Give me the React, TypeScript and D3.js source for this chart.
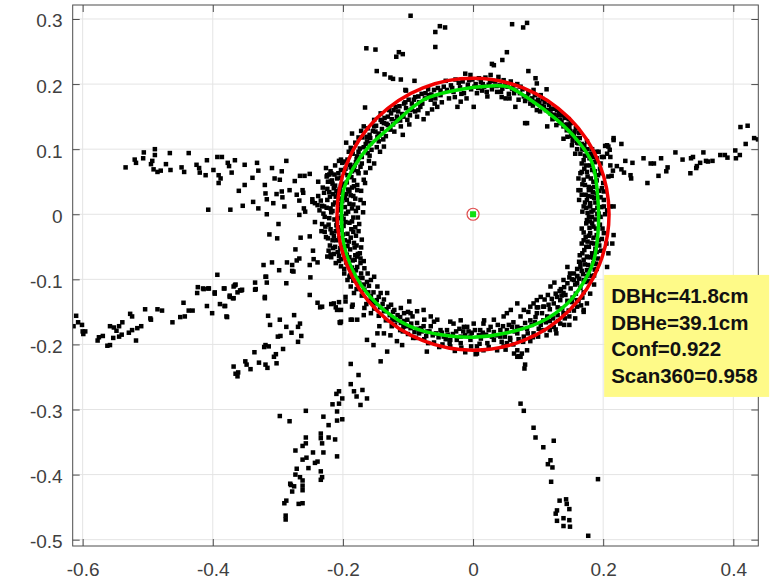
import React, { useRef, useEffect } from 'react';
import * as d3 from 'd3';

type Pt = [number, number];

// axis limits and ticks (metres)
const xLimits: [number, number] = [-0.6153, 0.4384];
const yLimits: [number, number] = [-0.5097, 0.3215];
const xTicks = [-0.6, -0.4, -0.2, 0, 0.2, 0.4];
const yTicks = [-0.5, -0.4, -0.3, -0.2, -0.1, 0, 0.1, 0.2, 0.3];

// fitted circle (DBHc) and estimated outline (DBHe)
const circleCenter: Pt = [0, 0];
const circleRadius = 0.209;
const ellipseOutline: Pt[] = [
  [-0.199, 0.037], [-0.184, 0.071], [-0.161, 0.103], [-0.127, 0.134], [-0.076, 0.176],
  [-0.024, 0.191], [0.027, 0.197], [0.053, 0.196], [0.088, 0.176], [0.129, 0.145],
  [0.16, 0.114], [0.183, 0.079], [0.192, 0.022], [0.192, -0.029], [0.185, -0.073],
  [0.169, -0.106], [0.145, -0.137], [0.103, -0.166], [0.053, -0.182], [0.0, -0.189],
  [-0.035, -0.187], [-0.081, -0.178], [-0.116, -0.162], [-0.158, -0.127], [-0.185, -0.086],
  [-0.199, -0.044], [-0.202, 0.002],
];

const infoLines = ['DBHc=41.8cm', 'DBHe=39.1cm', 'Conf=0.922', 'Scan360=0.958'];

// scan points
const upperLeftArm: Pt[] = [
  [-0.534, 0.072], [-0.52, 0.084], [-0.518, 0.079], [-0.506, 0.095], [-0.507, 0.086], [-0.489, 0.1],
  [-0.489, 0.091], [-0.493, 0.082], [-0.495, 0.077], [-0.491, 0.069], [-0.485, 0.065], [-0.48, 0.067],
  [-0.472, 0.077], [-0.466, 0.094], [-0.465, 0.068], [-0.448, 0.072], [-0.444, 0.065], [-0.437, 0.094],
  [-0.425, 0.076], [-0.421, 0.071], [-0.42, 0.064], [-0.409, 0.083], [-0.411, 0.06], [-0.399, 0.068],
  [-0.393, 0.088], [-0.386, 0.088], [-0.391, 0.06], [-0.391, 0.048], [-0.388, 0.055], [-0.377, 0.079],
  [-0.375, 0.074], [-0.371, 0.064], [-0.366, 0.083], [-0.351, 0.076], [-0.332, 0.079], [-0.33, 0.067],
  [-0.351, 0.045], [-0.36, 0.036], [-0.339, 0.056], [-0.338, 0.019], [-0.354, 0.013], [-0.33, 0.009],
  [-0.373, 0.007], [-0.407, 0.007], [-0.32, 0.045], [-0.319, 0.032], [-0.317, 0.023], [-0.317, 0.0],
  [-0.309, 0.071], [-0.307, 0.017], [-0.302, 0.031], [-0.294, 0.066], [-0.297, 0.053], [-0.293, 0.026],
  [-0.287, 0.082], [-0.294, 0.035], [-0.29, 0.012], [-0.282, 0.037], [-0.274, 0.051], [-0.271, 0.03],
  [-0.267, 0.021], [-0.262, 0.037], [-0.266, 0.059], [-0.259, 0.059], [-0.251, 0.062], [-0.26, 0.009],
  [-0.267, -0.001], [-0.238, 0.05], [-0.239, 0.014], [-0.224, 0.06], [-0.219, 0.05], [-0.206, 0.082],
  [-0.218, 0.063], [-0.305, 0.055], [-0.261, 0.033], [-0.247, 0.023], [-0.243, 0.017], [-0.258, 0.004],
];

const middleArm: Pt[] = [
  [-0.299, -0.015], [-0.313, -0.031], [-0.301, -0.037], [-0.265, -0.036], [-0.251, -0.034], [-0.273, -0.054],
  [-0.267, -0.068], [-0.246, -0.056], [-0.245, -0.069], [-0.322, -0.078], [-0.309, -0.074], [-0.298, -0.086],
  [-0.286, -0.074], [-0.278, -0.078], [-0.278, -0.087], [-0.251, -0.078], [-0.239, -0.074], [-0.224, -0.065],
  [-0.219, -0.062], [-0.393, -0.093], [-0.423, -0.112], [-0.415, -0.114], [-0.406, -0.114], [-0.424, -0.121],
  [-0.397, -0.12], [-0.382, -0.114], [-0.374, -0.127], [-0.365, -0.108], [-0.362, -0.12], [-0.356, -0.117],
  [-0.335, -0.105], [-0.335, -0.116], [-0.319, -0.096], [-0.317, -0.105], [-0.32, -0.127], [-0.287, -0.106],
  [-0.25, -0.097], [-0.251, -0.124], [-0.271, -0.071], [-0.368, -0.111], [-0.368, -0.129], [-0.382, -0.141],
  [-0.378, -0.158], [-0.239, -0.136], [-0.235, -0.143], [-0.232, -0.142], [-0.218, -0.138], [-0.211, -0.143],
  [-0.206, -0.135], [-0.209, -0.147], [-0.205, -0.166], [-0.196, -0.127], [-0.186, -0.142], [-0.186, -0.162],
];

const lowerLeftArm: Pt[] = [
  [-0.614, -0.172], [-0.61, -0.156], [-0.607, -0.166], [-0.601, -0.17], [-0.6, -0.18], [-0.596, -0.18],
  [-0.599, -0.184], [-0.577, -0.194], [-0.575, -0.189], [-0.569, -0.187], [-0.562, -0.202], [-0.558, -0.201],
  [-0.558, -0.172], [-0.553, -0.19], [-0.552, -0.174], [-0.548, -0.179], [-0.544, -0.172], [-0.544, -0.188],
  [-0.54, -0.185], [-0.539, -0.166], [-0.529, -0.182], [-0.527, -0.153], [-0.524, -0.157], [-0.524, -0.178],
  [-0.518, -0.194], [-0.516, -0.175], [-0.51, -0.172], [-0.504, -0.146], [-0.495, -0.162], [-0.496, -0.16],
  [-0.485, -0.146], [-0.478, -0.148], [-0.462, -0.166], [-0.45, -0.158], [-0.445, -0.136], [-0.443, -0.157],
  [-0.437, -0.148], [-0.431, -0.148], [-0.414, -0.115], [-0.407, -0.114], [-0.409, -0.141], [-0.401, -0.152],
  [-0.397, -0.122], [-0.389, -0.138], [-0.383, -0.114], [-0.381, -0.141], [-0.379, -0.157], [-0.374, -0.125],
  [-0.369, -0.129], [-0.366, -0.109], [-0.358, -0.117], [-0.355, -0.116], [-0.334, -0.115], [-0.32, -0.129],
  [-0.318, -0.096], [-0.276, -0.088],
];

const middleLowerArm: Pt[] = [
  [-0.315, -0.156], [-0.312, -0.17], [-0.297, -0.162], [-0.287, -0.173], [-0.275, -0.155], [-0.269, -0.173],
  [-0.266, -0.168], [-0.279, -0.182], [-0.296, -0.187], [-0.3, -0.188], [-0.264, -0.187], [-0.269, -0.196],
  [-0.292, -0.207], [-0.319, -0.201], [-0.314, -0.203], [-0.321, -0.204], [-0.336, -0.212], [-0.306, -0.219],
  [-0.303, -0.215], [-0.35, -0.226], [-0.348, -0.231], [-0.342, -0.238], [-0.329, -0.228], [-0.319, -0.231],
  [-0.316, -0.236], [-0.302, -0.229], [-0.368, -0.234], [-0.365, -0.245], [-0.361, -0.243], [-0.362, -0.249],
];

const bottomLeftArm: Pt[] = [
  [-0.188, -0.23], [-0.176, -0.247], [-0.188, -0.261], [-0.183, -0.272], [-0.179, -0.28], [-0.21, -0.276],
  [-0.206, -0.272], [-0.201, -0.283], [-0.216, -0.292], [-0.206, -0.291], [-0.209, -0.303], [-0.201, -0.315],
  [-0.209, -0.317], [-0.257, -0.302], [-0.23, -0.311], [-0.222, -0.324], [-0.297, -0.31], [-0.282, -0.318],
  [-0.234, -0.337], [-0.234, -0.344], [-0.232, -0.352], [-0.222, -0.343], [-0.212, -0.346], [-0.257, -0.343],
  [-0.257, -0.352], [-0.262, -0.356], [-0.273, -0.363], [-0.246, -0.366], [-0.23, -0.366], [-0.209, -0.372],
  [-0.256, -0.374], [-0.262, -0.377], [-0.239, -0.38], [-0.243, -0.382], [-0.253, -0.39], [-0.271, -0.391],
  [-0.273, -0.4], [-0.266, -0.404], [-0.234, -0.395], [-0.232, -0.404], [-0.234, -0.408], [-0.28, -0.416],
  [-0.275, -0.418], [-0.278, -0.426], [-0.281, -0.414], [-0.268, -0.445], [-0.262, -0.444], [-0.262, -0.424],
  [-0.262, -0.417], [-0.287, -0.44], [-0.29, -0.444], [-0.288, -0.463], [-0.288, -0.469], [-0.262, -0.409],
  [-0.17, -0.27], [-0.173, -0.293], [-0.163, -0.283],
];

const bottomRightArm: Pt[] = [
  [0.07, -0.218], [0.075, -0.214], [0.079, -0.237], [0.08, -0.231], [0.073, -0.291], [0.078, -0.302],
  [0.093, -0.328], [0.096, -0.343], [0.108, -0.358], [0.124, -0.348], [0.119, -0.378], [0.115, -0.384],
  [0.122, -0.389], [0.12, -0.411], [0.133, -0.44], [0.143, -0.438], [0.144, -0.445], [0.148, -0.453],
  [0.129, -0.455], [0.127, -0.46], [0.139, -0.467], [0.129, -0.471], [0.148, -0.47], [0.139, -0.479],
  [0.149, -0.48], [0.177, -0.494], [0.192, -0.407],
];

const rightArm: Pt[] = [
  [0.216, 0.114], [0.228, 0.108], [0.21, 0.099], [0.203, 0.105], [0.211, 0.088], [0.234, 0.082],
  [0.245, 0.079], [0.221, 0.074], [0.228, 0.069], [0.232, 0.064], [0.215, 0.067], [0.213, 0.059],
  [0.243, 0.055], [0.242, 0.06], [0.262, 0.086], [0.273, 0.078], [0.278, 0.078], [0.289, 0.086],
  [0.299, 0.072], [0.297, 0.066], [0.285, 0.059], [0.268, 0.048], [0.311, 0.095], [0.322, 0.084],
  [0.335, 0.086], [0.338, 0.088], [0.354, 0.095], [0.349, 0.079], [0.344, 0.074], [0.343, 0.071],
  [0.334, 0.063], [0.358, 0.082], [0.361, 0.081], [0.368, 0.082], [0.38, 0.091], [0.387, 0.091],
  [0.391, 0.087], [0.403, 0.098], [0.404, 0.086], [0.41, 0.091], [0.411, 0.134], [0.422, 0.136],
  [0.419, 0.108], [0.432, 0.117], [0.438, 0.115],
];

const topScatter: Pt[] = [
  [-0.096, 0.305], [-0.058, 0.28], [-0.051, 0.289], [-0.043, 0.287], [-0.058, 0.257], [-0.164, 0.255],
  [-0.15, 0.253], [-0.118, 0.242], [-0.114, 0.249], [-0.108, 0.246], [0.06, 0.292], [0.077, 0.287],
  [0.083, 0.294], [0.052, 0.249], [0.045, 0.237], [0.029, 0.231], [0.032, 0.229], [-0.148, 0.22],
  [-0.136, 0.215], [-0.127, 0.21], [-0.123, 0.208], [-0.111, 0.207], [-0.09, 0.205], [0.085, 0.22],
  [-0.166, 0.164], [0.216, 0.117], [-0.103, 0.19], [0.096, 0.209], [0.098, 0.201], [0.113, 0.192],
  [0.08, 0.14],
];

const ringLeft: Pt[] = [
  [-0.247, 0.019], [-0.243, -0.012], [-0.238, 0.028], [-0.236, 0.006], [-0.233, -0.026], [-0.231, 0.041],
  [-0.229, 0.012], [-0.228, -0.004], [-0.226, -0.035], [-0.225, 0.058], [-0.224, 0.022], [-0.222, -0.016],
  [-0.221, 0.034], [-0.22, -0.048], [-0.219, 0.066], [-0.218, 0.003], [-0.217, -0.029], [-0.216, 0.047],
  [-0.215, 0.015], [-0.214, -0.061], [-0.213, -0.008], [-0.212, 0.075], [-0.211, 0.027], [-0.21, -0.04],
  [-0.209, 0.055], [-0.208, -0.02], [-0.207, 0.009], [-0.206, -0.072], [-0.205, 0.038], [-0.204, -0.052],
  [-0.203, 0.068], [-0.202, -0.003], [-0.201, 0.02], [-0.2, -0.031], [-0.199, 0.047], [-0.198, -0.084],
  [-0.197, 0.081], [-0.196, -0.012], [-0.195, 0.031], [-0.194, -0.062], [-0.193, 0.06], [-0.192, 0.004],
  [-0.191, -0.042], [-0.19, 0.016], [-0.189, -0.094], [-0.188, 0.072], [-0.187, -0.023], [-0.186, 0.041],
  [-0.185, -0.071], [-0.184, -0.005], [-0.183, 0.052], [-0.182, -0.051], [-0.181, 0.024], [-0.18, -0.033],
  [-0.179, 0.085], [-0.178, -0.081], [-0.177, 0.01], [-0.176, 0.063], [-0.175, -0.015], [-0.174, -0.06],
  [-0.172, 0.036], [-0.171, -0.039], [-0.169, 0.003], [-0.168, -0.072], [-0.166, 0.048], [-0.214, 0.04],
  [-0.209, -0.012], [-0.205, 0.016], [-0.2, -0.058], [-0.197, 0.011], [-0.193, -0.03], [-0.19, 0.035],
  [-0.186, -0.011], [-0.184, 0.028], [-0.181, -0.063], [-0.178, 0.045], [-0.203, 0.044], [-0.208, 0.03],
  [-0.211, -0.026], [-0.216, -0.04], [-0.219, 0.009], [-0.223, 0.05], [-0.227, -0.019], [-0.232, 0.013],
  [-0.199, -0.018], [-0.194, 0.022], [-0.189, -0.054], [-0.183, -0.044], [-0.18, 0.005], [-0.176, -0.026],
  [-0.196, 0.07], [-0.206, -0.064], [-0.213, 0.061], [-0.187, 0.057], [-0.172, -0.051], [-0.192, -0.075],
  [-0.201, 0.079], [-0.215, -0.052],
  [-0.226, 0.071], [-0.221, 0.061], [-0.217, 0.052], [-0.212, 0.044], [-0.207, 0.063], [-0.203, 0.056],
  [-0.198, 0.064], [-0.194, 0.049], [-0.19, 0.058], [-0.186, 0.066], [-0.182, 0.075], [-0.229, 0.033],
  [-0.224, 0.039], [-0.22, 0.027], [-0.215, 0.031], [-0.21, 0.036], [-0.206, 0.024], [-0.202, 0.033],
  [-0.197, 0.025], [-0.192, 0.038], [-0.188, 0.029], [-0.184, 0.015], [-0.234, 0.021], [-0.23, 0.001],
  [-0.225, 0.01], [-0.221, -0.006], [-0.216, 0.005], [-0.212, 0.018], [-0.208, -0.006], [-0.204, 0.006],
  [-0.199, -0.007], [-0.195, 0.001], [-0.19, -0.013], [-0.186, 0.009], [-0.181, -0.02], [-0.177, -0.005],
  [-0.232, -0.015], [-0.228, -0.027], [-0.223, -0.037], [-0.219, -0.023], [-0.214, -0.033], [-0.21, -0.017],
  [-0.206, -0.037], [-0.202, -0.024], [-0.197, -0.04], [-0.193, -0.049], [-0.188, -0.036], [-0.184, -0.027],
  [-0.179, -0.048], [-0.222, -0.056], [-0.218, -0.066], [-0.212, -0.05], [-0.208, -0.058], [-0.203, -0.069],
  [-0.199, -0.05], [-0.195, -0.074], [-0.19, -0.066], [-0.186, -0.082], [-0.182, -0.07], [-0.177, -0.061],
  [-0.173, -0.068],
];

const ringUpperLeft: Pt[] = [
  [-0.203, 0.084], [-0.191, 0.096], [-0.178, 0.089], [-0.162, 0.094], [-0.173, 0.073], [-0.183, 0.068],
  [-0.152, 0.078], [-0.168, 0.053], [-0.183, 0.043], [-0.178, 0.037], [-0.173, 0.022], [-0.168, 0.017],
  [-0.157, 0.109], [-0.137, 0.104], [-0.147, 0.119], [-0.162, 0.132], [-0.152, 0.135], [-0.142, 0.145],
  [-0.131, 0.15], [-0.168, 0.135], [-0.163, 0.119], [-0.152, 0.145], [-0.142, 0.155], [-0.137, 0.14],
  [-0.129, 0.16], [-0.127, 0.13], [-0.119, 0.165], [-0.117, 0.15], [-0.111, 0.135], [-0.106, 0.17],
  [-0.101, 0.145], [-0.096, 0.16], [-0.104, 0.191], [-0.091, 0.176], [-0.086, 0.15], [-0.081, 0.165],
  [-0.073, 0.186], [-0.07, 0.155], [-0.065, 0.176], [-0.06, 0.191], [-0.055, 0.165], [-0.05, 0.183],
  [-0.188, 0.102], [-0.181, 0.11], [-0.174, 0.101], [-0.17, 0.118], [-0.165, 0.108], [-0.159, 0.122],
  [-0.156, 0.099], [-0.15, 0.127], [-0.145, 0.112], [-0.14, 0.131], [-0.134, 0.12], [-0.133, 0.139],
  [-0.125, 0.146], [-0.121, 0.127], [-0.115, 0.158], [-0.112, 0.144], [-0.108, 0.122], [-0.103, 0.163],
  [-0.098, 0.138], [-0.094, 0.17], [-0.089, 0.158], [-0.084, 0.181], [-0.078, 0.17], [-0.076, 0.146],
  [-0.068, 0.183], [-0.063, 0.161], [-0.058, 0.178], [-0.16, 0.082], [-0.165, 0.064], [-0.158, 0.071],
  [-0.176, 0.118], [-0.186, 0.124], [-0.172, 0.128], [-0.143, 0.096], [-0.195, 0.11],
  [-0.193, 0.084], [-0.185, 0.093], [-0.18, 0.08], [-0.176, 0.096], [-0.171, 0.088], [-0.168, 0.103],
  [-0.163, 0.112], [-0.158, 0.117], [-0.154, 0.128], [-0.149, 0.136], [-0.145, 0.124], [-0.14, 0.142],
  [-0.136, 0.148], [-0.131, 0.137], [-0.126, 0.155], [-0.122, 0.16], [-0.118, 0.143], [-0.113, 0.166],
  [-0.109, 0.154], [-0.104, 0.172], [-0.099, 0.176], [-0.094, 0.162], [-0.089, 0.18], [-0.083, 0.172],
  [-0.079, 0.185], [-0.074, 0.178], [-0.069, 0.192], [-0.064, 0.184], [-0.059, 0.17], [-0.054, 0.194],
  [-0.189, 0.076], [-0.177, 0.066], [-0.171, 0.078], [-0.159, 0.09], [-0.148, 0.103], [-0.138, 0.115],
  [-0.123, 0.138], [-0.107, 0.15], [-0.097, 0.152], [-0.084, 0.16],
];

const ringTop: Pt[] = [
  [-0.045, 0.196], [-0.037, 0.178], [-0.03, 0.188], [-0.024, 0.165], [-0.019, 0.173], [-0.014, 0.186],
  [-0.012, 0.216], [-0.004, 0.214], [0.001, 0.165], [0.006, 0.186], [0.009, 0.209], [0.017, 0.196],
  [0.022, 0.181], [0.027, 0.214], [0.034, 0.204], [0.037, 0.188], [0.045, 0.193], [0.05, 0.178],
  [0.058, 0.204], [0.063, 0.186], [0.065, 0.165], [0.073, 0.196], [0.078, 0.181], [-0.042, 0.205],
  [-0.034, 0.198], [-0.027, 0.207], [-0.02, 0.195], [-0.016, 0.204], [-0.008, 0.199], [-0.003, 0.192],
  [-0.001, 0.207], [0.004, 0.2], [0.012, 0.203], [0.014, 0.19], [0.019, 0.21], [0.024, 0.199],
  [0.029, 0.192], [0.031, 0.205], [0.039, 0.211], [0.041, 0.198], [0.047, 0.206], [0.053, 0.196],
  [0.055, 0.185], [0.06, 0.193], [0.068, 0.2], [0.07, 0.176], [-0.048, 0.172], [-0.01, 0.178],
  [0.044, 0.18], [-0.028, 0.18],
  [-0.05, 0.19], [-0.04, 0.191], [-0.032, 0.194], [-0.022, 0.202], [-0.018, 0.185], [-0.006, 0.206],
  [0.002, 0.196], [0.008, 0.194], [0.015, 0.2], [0.021, 0.188], [0.026, 0.204], [0.036, 0.197],
  [0.043, 0.188], [0.049, 0.198], [0.056, 0.178], [0.062, 0.198], [0.066, 0.19], [0.072, 0.186],
  [0.076, 0.192], [0.08, 0.174],
];

const ringUpperRight: Pt[] = [
  [0.088, 0.17], [0.093, 0.191], [0.098, 0.16], [0.104, 0.183], [0.083, 0.14], [0.109, 0.165],
  [0.119, 0.155], [0.129, 0.16], [0.134, 0.145], [0.139, 0.135], [0.15, 0.14], [0.155, 0.124],
  [0.145, 0.119], [0.114, 0.135], [0.134, 0.14], [0.144, 0.129], [0.139, 0.116], [0.154, 0.119],
  [0.152, 0.106], [0.162, 0.109], [0.165, 0.093], [0.157, 0.093], [0.172, 0.099], [0.17, 0.083],
  [0.198, 0.088], [0.19, 0.096], [0.206, 0.106], [0.085, 0.186], [0.091, 0.178], [0.096, 0.173],
  [0.102, 0.171], [0.107, 0.177], [0.112, 0.16], [0.117, 0.168], [0.122, 0.146], [0.125, 0.162],
  [0.131, 0.152], [0.137, 0.152], [0.142, 0.137], [0.147, 0.146], [0.149, 0.128], [0.158, 0.132],
  [0.16, 0.117], [0.163, 0.125], [0.167, 0.108], [0.175, 0.112], [0.178, 0.092], [0.183, 0.1],
  [0.16, 0.1], [0.128, 0.137], [0.103, 0.158], [0.185, 0.088],
  [0.083, 0.18], [0.087, 0.177], [0.092, 0.167], [0.095, 0.183], [0.1, 0.176], [0.106, 0.166],
  [0.11, 0.172], [0.115, 0.16], [0.12, 0.162], [0.124, 0.153], [0.127, 0.147], [0.132, 0.158],
  [0.136, 0.142], [0.141, 0.148], [0.144, 0.138], [0.148, 0.134], [0.151, 0.12], [0.156, 0.127],
  [0.16, 0.11], [0.164, 0.117], [0.168, 0.1], [0.171, 0.106], [0.176, 0.1], [0.179, 0.086],
  [0.182, 0.093], [0.187, 0.08], [0.19, 0.086], [0.195, 0.07], [0.172, 0.09], [0.153, 0.113],
];

const ringRight: Pt[] = [
  [0.167, 0.078], [0.165, 0.063], [0.17, 0.053], [0.162, 0.037], [0.178, 0.042], [0.175, 0.022],
  [0.18, 0.012], [0.183, -0.004], [0.175, -0.009], [0.185, -0.019], [0.18, -0.029], [0.173, -0.035],
  [0.178, -0.05], [0.183, -0.06], [0.17, -0.07], [0.165, -0.081], [0.175, -0.086], [0.185, -0.075],
  [0.149, -0.091], [0.155, -0.101], [0.193, 0.001], [0.201, 0.012], [0.211, 0.012], [0.201, -0.029],
  [0.216, -0.032], [0.208, -0.06], [0.206, -0.081], [0.196, 0.063], [0.206, 0.093], [0.208, 0.104],
  [0.201, 0.088], [0.193, 0.096], [0.185, 0.088], [0.167, 0.065], [0.175, 0.065], [0.183, 0.068],
  [0.162, 0.055], [0.165, 0.037], [0.178, 0.037], [0.183, 0.027], [0.18, 0.017], [0.17, 0.012],
  [0.185, 0.006], [0.178, -0.004], [0.183, -0.014], [0.19, 0.052], [0.19, 0.032], [0.198, 0.04],
  [0.201, 0.022], [0.206, 0.006], [0.216, 0.012], [0.208, 0.058], [0.211, 0.075], [0.188, -0.008],
  [0.179, -0.021], [0.19, -0.032], [0.176, -0.042], [0.186, -0.045], [0.171, -0.055], [0.188, -0.053],
  [0.181, -0.066], [0.192, -0.068], [0.177, -0.078], [0.169, -0.092], [0.182, -0.095], [0.16, -0.084],
  [0.172, -0.104], [0.188, 0.018], [0.173, 0.03], [0.191, 0.01], [0.168, 0.046], [0.195, -0.016],
  [0.186, 0.042], [0.194, -0.048], [0.167, -0.022], [0.17, -0.04], [0.198, -0.038], [0.181, 0.055],
  [0.174, 0.075], [0.196, 0.078], [0.163, 0.022], [0.176, 0.002], [0.187, -0.085], [0.164, -0.063],
  [0.2, 0.048], [0.214, -0.045],
  [0.171, 0.07], [0.18, 0.075], [0.187, 0.066], [0.192, 0.06], [0.176, 0.058], [0.185, 0.05],
  [0.172, 0.045], [0.181, 0.04], [0.194, 0.036], [0.167, 0.03], [0.177, 0.028], [0.186, 0.025],
  [0.196, 0.026], [0.172, 0.018], [0.182, 0.004], [0.191, 0.0], [0.197, 0.011], [0.168, 0.004],
  [0.174, -0.014], [0.18, -0.011], [0.189, -0.022], [0.196, -0.004], [0.199, -0.022], [0.17, -0.028],
  [0.178, -0.033], [0.185, -0.036], [0.193, -0.04], [0.167, -0.045], [0.174, -0.05], [0.182, -0.044],
  [0.19, -0.058], [0.197, -0.056], [0.168, -0.06], [0.176, -0.066], [0.185, -0.067], [0.172, -0.077],
  [0.181, -0.081], [0.189, -0.076], [0.163, -0.073], [0.167, -0.087], [0.175, -0.095], [0.16, -0.095],
  [0.178, -0.103], [0.186, -0.094], [0.203, 0.0], [0.205, -0.045], [0.201, 0.035], [0.184, 0.034],
  [0.174, 0.01], [0.19, -0.084],
];

const ringLowerRight: Pt[] = [
  [0.145, -0.081], [0.155, -0.091], [0.165, -0.075], [0.175, -0.065], [0.17, -0.101], [0.16, -0.106],
  [0.145, -0.106], [0.139, -0.101], [0.18, -0.122], [0.175, -0.137], [0.17, -0.15], [0.119, -0.111],
  [0.127, -0.122], [0.104, -0.127], [0.093, -0.137], [0.109, -0.142], [0.124, -0.137], [0.134, -0.132],
  [0.114, -0.157], [0.098, -0.152], [0.078, -0.147], [0.073, -0.157], [0.088, -0.163], [0.104, -0.17],
  [0.124, -0.173], [0.134, -0.168], [0.068, -0.173], [0.052, -0.178], [0.058, -0.147], [0.047, -0.157],
  [0.068, -0.183], [0.078, -0.188], [0.093, -0.183], [0.052, -0.198], [0.042, -0.188], [0.027, -0.173],
  [0.017, -0.163], [0.011, -0.178], [0.001, -0.168], [-0.009, -0.173], [-0.019, -0.163], [-0.03, -0.168],
  [-0.04, -0.178], [-0.035, -0.193], [-0.019, -0.188], [-0.004, -0.193], [0.006, -0.203], [0.022, -0.198],
  [0.032, -0.193], [0.037, -0.209], [0.047, -0.203], [0.068, -0.209], [0.073, -0.219], [0.083, -0.209],
  [0.063, -0.214], [-0.019, -0.198], [-0.035, -0.203], [-0.045, -0.188], [0.15, -0.114], [0.158, -0.122],
  [0.165, -0.113], [0.142, -0.124], [0.152, -0.135], [0.16, -0.142], [0.147, -0.148], [0.137, -0.145],
  [0.13, -0.155], [0.141, -0.16], [0.118, -0.146], [0.11, -0.131], [0.1, -0.143], [0.085, -0.15],
  [0.095, -0.166], [0.118, -0.164], [0.108, -0.178], [0.083, -0.176], [0.062, -0.166], [0.057, -0.19],
  [0.038, -0.17], [0.032, -0.181], [0.02, -0.185], [0.012, -0.191], [-0.002, -0.182], [-0.012, -0.186],
  [-0.026, -0.18], [0.046, -0.172], [0.088, -0.195], [0.1, -0.188], [0.113, -0.186], [0.128, -0.183],
  [0.157, -0.16], [0.178, -0.088], [0.168, -0.128], [0.186, -0.108], [0.148, -0.17], [0.125, -0.105],
  [0.133, -0.118], [0.16, -0.095],
  [0.152, -0.1], [0.163, -0.099], [0.157, -0.108], [0.148, -0.097], [0.14, -0.112], [0.136, -0.125],
  [0.145, -0.133], [0.153, -0.128], [0.162, -0.133], [0.17, -0.12], [0.166, -0.14], [0.155, -0.148],
  [0.148, -0.157], [0.139, -0.152], [0.13, -0.143], [0.121, -0.13], [0.115, -0.124], [0.116, -0.139],
  [0.106, -0.152], [0.112, -0.166], [0.123, -0.16], [0.131, -0.164], [0.14, -0.17], [0.127, -0.177],
  [0.118, -0.178], [0.108, -0.163], [0.096, -0.158], [0.09, -0.17], [0.101, -0.176], [0.092, -0.189],
  [0.084, -0.183], [0.08, -0.167], [0.074, -0.175], [0.077, -0.196], [0.07, -0.192], [0.064, -0.18],
  [0.06, -0.173], [0.062, -0.2], [0.055, -0.17], [0.049, -0.188], [0.044, -0.196], [0.036, -0.186],
  [0.029, -0.188], [0.024, -0.178], [0.015, -0.182], [0.009, -0.186], [0.003, -0.178], [-0.007, -0.18],
  [0.098, -0.143], [0.135, -0.115],
];

const ringLowerLeft: Pt[] = [
  [-0.178, -0.065], [-0.173, -0.075], [-0.167, -0.083], [-0.162, -0.091], [-0.157, -0.101], [-0.152, -0.096],
  [-0.147, -0.111], [-0.142, -0.121], [-0.132, -0.121], [-0.137, -0.131], [-0.126, -0.139], [-0.121, -0.147],
  [-0.111, -0.144], [-0.106, -0.152], [-0.101, -0.162], [-0.093, -0.157], [-0.086, -0.167], [-0.08, -0.175],
  [-0.075, -0.162], [-0.07, -0.18], [-0.065, -0.172], [-0.057, -0.183], [-0.05, -0.178], [-0.039, -0.185],
  [-0.098, -0.134], [-0.086, -0.149], [-0.065, -0.157], [-0.055, -0.162], [-0.211, -0.075], [-0.203, -0.08],
  [-0.198, -0.091], [-0.193, -0.101], [-0.188, -0.111], [-0.183, -0.121], [-0.214, -0.137], [-0.203, -0.147],
  [-0.196, -0.134], [-0.185, -0.139], [-0.167, -0.144], [-0.157, -0.152], [-0.178, -0.162], [-0.144, -0.172],
  [-0.137, -0.183], [-0.203, -0.165], [-0.196, -0.065], [-0.19, -0.08], [-0.183, -0.091], [-0.175, -0.106],
  [-0.167, -0.116], [-0.157, -0.126], [-0.15, -0.137], [-0.137, -0.149], [-0.124, -0.16], [-0.111, -0.167],
  [-0.096, -0.175], [-0.083, -0.183], [-0.163, -0.193], [-0.153, -0.201], [-0.142, -0.226], [-0.132, -0.211],
  [-0.147, -0.183], [-0.168, -0.155], [-0.188, -0.162], [-0.204, -0.167], [-0.12, -0.17], [-0.108, -0.18],
  [-0.092, -0.19], [-0.075, -0.192], [-0.06, -0.197], [-0.047, -0.2], [-0.028, -0.21], [-0.012, -0.212],
  [0.004, -0.215], [0.016, -0.209], [-0.16, -0.11], [-0.145, -0.127], [-0.13, -0.142], [-0.116, -0.155],
  [-0.1, -0.15], [-0.076, -0.172], [-0.17, -0.098], [-0.16, -0.133], [-0.127, -0.186], [-0.117, -0.195],
  [-0.122, -0.162], [-0.107, -0.173], [-0.096, -0.152], [-0.076, -0.147], [-0.06, -0.165], [-0.035, -0.165],
  [-0.014, -0.173], [-0.025, -0.193], [-0.004, -0.188], [0.016, -0.168], [0.032, -0.162], [0.042, -0.178],
  [0.057, -0.193], [0.052, -0.152], [0.068, -0.137], [0.088, -0.142], [0.098, -0.132], [0.108, -0.142],
  [0.129, -0.127], [0.139, -0.121], [0.16, -0.132], [0.17, -0.147], [-0.071, -0.211], [-0.109, -0.201],
  [0.006, -0.214], [0.05, -0.208], [0.068, -0.219],
  [-0.015, -0.18], [-0.021, -0.176], [-0.031, -0.184], [-0.042, -0.192], [-0.048, -0.182], [-0.053, -0.189],
  [-0.062, -0.186], [-0.067, -0.18], [-0.072, -0.187], [-0.079, -0.18], [-0.085, -0.176], [-0.09, -0.181],
  [-0.095, -0.168], [-0.102, -0.172], [-0.106, -0.164], [-0.112, -0.158], [-0.117, -0.163], [-0.123, -0.15],
  [-0.128, -0.155], [-0.133, -0.146], [-0.139, -0.138], [-0.143, -0.143], [-0.148, -0.132], [-0.153, -0.12],
  [-0.155, -0.135], [-0.161, -0.12], [-0.163, -0.104], [-0.168, -0.108], [-0.172, -0.091], [-0.176, -0.098],
  [-0.18, -0.086], [-0.184, -0.102], [-0.19, -0.096], [-0.179, -0.115], [-0.171, -0.125], [-0.164, -0.138],
  [-0.152, -0.145], [-0.145, -0.156], [-0.134, -0.163], [-0.125, -0.172], [-0.112, -0.178], [-0.1, -0.184],
  [-0.088, -0.19], [-0.069, -0.198], [-0.052, -0.204], [-0.036, -0.198], [-0.018, -0.205], [-0.003, -0.203],
  [0.01, -0.199], [0.024, -0.204],
];

const allPoints: Pt[] = [
  ...upperLeftArm, ...middleArm, ...lowerLeftArm, ...middleLowerArm, ...bottomLeftArm,
  ...bottomRightArm, ...rightArm, ...topScatter, ...ringLeft, ...ringUpperLeft, ...ringTop,
  ...ringUpperRight, ...ringRight, ...ringLowerRight, ...ringLowerLeft,
];

const W = 779;
const H = 583;
const FONT = '"Liberation Sans", Arial, Helvetica, sans-serif';

export default function App() {
  const svgRef = useRef<SVGSVGElement>(null);

  useEffect(() => {
    const svg = d3.select(svgRef.current);
    svg.selectAll('*').remove();

    const left = 72.7, right = 758.3, top = 5, bottom = 546;
    const x = d3.scaleLinear().domain(xLimits).range([left, right]);
    const y = d3.scaleLinear().domain(yLimits).range([bottom, top]);

    svg.append('rect').attr('width', W).attr('height', H).attr('fill', '#fff');

    // grid
    const grid = svg.append('g').attr('stroke', '#e4e4e4').attr('stroke-width', 1);
    grid.selectAll('line.gx').data(xTicks).enter().append('line')
      .attr('x1', d => x(d)).attr('x2', d => x(d)).attr('y1', top).attr('y2', bottom);
    grid.selectAll('line.gy').data(yTicks).enter().append('line')
      .attr('y1', d => y(d)).attr('y2', d => y(d)).attr('x1', left).attr('x2', right);

    // clip for the data
    svg.append('clipPath').attr('id', 'plotclip').append('rect')
      .attr('x', left).attr('y', top).attr('width', right - left).attr('height', bottom - top);

    const plot = svg.append('g').attr('clip-path', 'url(#plotclip)');
    const ms = 4.5;
    plot.append('g').selectAll('rect').data(allPoints).enter().append('rect')
      .attr('x', d => x(d[0]) - ms / 2).attr('y', d => y(d[1]) - ms / 2)
      .attr('width', ms).attr('height', ms).attr('fill', '#000');

    const outline = d3.line<Pt>().x(d => x(d[0])).y(d => y(d[1])).curve(d3.curveCatmullRomClosed.alpha(0.5));
    plot.append('path').attr('d', outline(ellipseOutline) || '')
      .attr('fill', 'none').attr('stroke', '#00e000').attr('stroke-width', 3.5);

    plot.append('circle')
      .attr('cx', x(circleCenter[0])).attr('cy', y(circleCenter[1]))
      .attr('r', x(circleRadius) - x(0))
      .attr('fill', 'none').attr('stroke', '#f00000').attr('stroke-width', 3.5);

    // centre marker
    plot.append('circle').attr('cx', x(circleCenter[0])).attr('cy', y(circleCenter[1])).attr('r', 6)
      .attr('fill', 'none').attr('stroke', '#e05050').attr('stroke-width', 1.2);
    plot.append('rect').attr('x', x(circleCenter[0]) - 3).attr('y', y(circleCenter[1]) - 3)
      .attr('width', 6).attr('height', 6).attr('fill', '#10e010');

    // axes
    const fmt = (d: d3.NumberValue) => (+d === 0 ? '0' : String(+d));
    const styleAxis = (g: d3.Selection<SVGGElement, unknown, null, undefined>) => {
      g.select('.domain').remove();
      g.selectAll('.tick line').attr('stroke', '#4d4d4d');
      g.selectAll('.tick text').attr('fill', '#404040').style('font-family', FONT).style('font-size', '19px');
    };
    svg.append('g').attr('transform', `translate(0,${bottom})`)
      .call(d3.axisBottom(x).tickValues(xTicks).tickSizeInner(-7).tickSizeOuter(0).tickPadding(17).tickFormat(fmt))
      .call(styleAxis);
    svg.append('g').attr('transform', `translate(0,${top})`)
      .call(d3.axisTop(x).tickValues(xTicks).tickSizeInner(-7).tickSizeOuter(0).tickFormat(() => ''))
      .call(styleAxis);
    const yAxis = svg.append('g').attr('transform', `translate(${left},0)`)
      .call(d3.axisLeft(y).tickValues(yTicks).tickSizeInner(-7).tickSizeOuter(0).tickPadding(10).tickFormat(fmt))
      .call(styleAxis);
    yAxis.selectAll('.tick text').attr('dy', '0.42em');
    svg.append('g').attr('transform', `translate(${right},0)`)
      .call(d3.axisRight(y).tickValues(yTicks).tickSizeInner(-7).tickSizeOuter(0).tickFormat(() => ''))
      .call(styleAxis);

    svg.append('rect').attr('x', left).attr('y', top).attr('width', right - left).attr('height', bottom - top)
      .attr('fill', 'none').attr('stroke', '#4d4d4d').attr('stroke-width', 1);

    // info box
    const bx = x(0.2015), by = y(-0.0932);
    const box = svg.append('g');
    box.append('rect').attr('x', bx).attr('y', by).attr('width', 165).attr('height', 122).attr('fill', '#fefa88');
    box.selectAll('text').data(infoLines).enter().append('text')
      .attr('x', bx + 7).attr('y', (d, i) => by + 28 + i * 26.7)
      .attr('fill', '#111').style('font-family', FONT).style('font-weight', 'bold').style('font-size', '20.5px')
      .text(d => d);
  }, []);

  return (
    <svg
      ref={svgRef}
      width={W}
      height={H}
      style={{ position: 'absolute', left: 0, top: 0, display: 'block' }}
    />
  );
}
